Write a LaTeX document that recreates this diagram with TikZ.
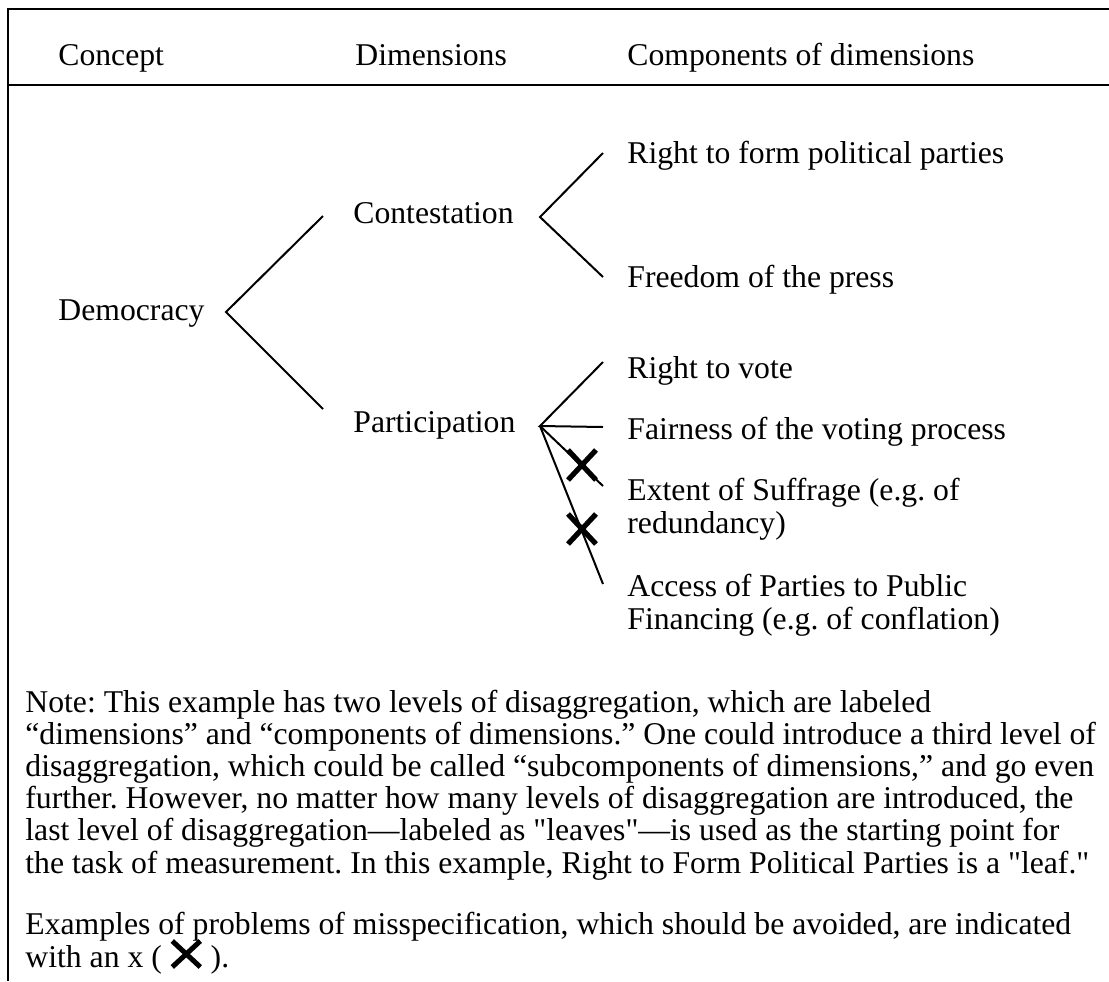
\documentclass[tikz,border=0pt]{standalone}
\usepackage{fontspec}
\setmainfont{Liberation Serif}
\frenchspacing
\newcommand{\misspec}{\smash{\tikz[baseline=0pt]{\draw[line width=2.5pt] (0pt,0pt) -- (14pt,13pt) (0pt,13pt) -- (14pt,0pt);}}}
\begin{document}
\begin{tikzpicture}[x=0.5pt,y=-0.5pt,
every node/.style={inner sep=0pt,anchor=base west,align=left,
font=\fontsize{15.85pt}{16.1pt}\selectfont\frenchspacing},
frame/.style={line width=1.4pt},
branch/.style={line width=1pt},
xmark/.pic={\draw[line width=2.6pt] (-14,-15) -- (14,15) (-14,15) -- (14,-15);}]
\useasboundingbox (0,0) rectangle (1109,981);

% frame
\draw[frame] (1109,9) -- (8,9) -- (8,981);
\draw[frame] (8,85) -- (1109,85);

% header
\node (concept) at (58,65) {Concept};
\node (dims) at (355,65) {Dimensions};
\node (comps) at (627,65) {Components of dimensions};

% concept and dimensions
\node (dem) at (58,320) {Democracy};
\node (cont) at (353,223) {Contestation};
\node (part) at (353,432) {Participation};

% components (multi-line nodes sit on their last line)
\node (rfpp) at (627,163) {Right to form political parties};
\node (press) at (627,287) {Freedom of the press};
\node (vote) at (627,378) {Right to vote};
\node (fair) at (627,439) {Fairness of the voting process};
\node (suff) at (627,533) {Extent of Suffrage (e.g. of\\redundancy)};
\node (fin) at (627,629) {Access of Parties to Public\\Financing (e.g. of conflation)};

\coordinate (dem-v) at (226,312);
\coordinate (dem-a) at (323,216);
\coordinate (dem-b) at (323,409);
\coordinate (cont-v) at (540,217);
\coordinate (cont-a) at (603,153);
\coordinate (cont-b) at (603,277);
\coordinate (part-v) at (540,426);
\coordinate (part-a) at (603,362);
\coordinate (part-b) at (603,427);
\coordinate (part-c) at (603,486);
\coordinate (part-d) at (603,584);

\draw[branch] (dem-a) -- (dem-v) -- (dem-b);
\draw[branch] (cont-a) -- (cont-v) -- (cont-b);
\draw[branch] (part-a) -- (part-v) -- (part-b);
\draw[branch] (part-v) -- (part-c);
\draw[branch] (part-v) -- (part-d);

\pic at (582,465) {xmark};
\pic at (582,529) {xmark};

% note
\node (note) at (25,873) {Note: This example has two levels of disaggregation, which are labeled\\
“dimensions” and “components of dimensions.” One could introduce a third level of\\
disaggregation, which could be called “subcomponents of dimensions,” and go even\\
further. However, no matter how many levels of disaggregation are introduced, the\\
last level of disaggregation—labeled as \textquotedbl leaves\textquotedbl—is used as the starting point for\\
the task of measurement. In this example, Right to Form Political Parties is a \textquotedbl leaf.\textquotedbl};
\node (examples) at (25,967) {Examples of problems of misspecification, which should be avoided, are indicated\\
with an x ( \misspec\ ).};
\end{tikzpicture}
\end{document}
